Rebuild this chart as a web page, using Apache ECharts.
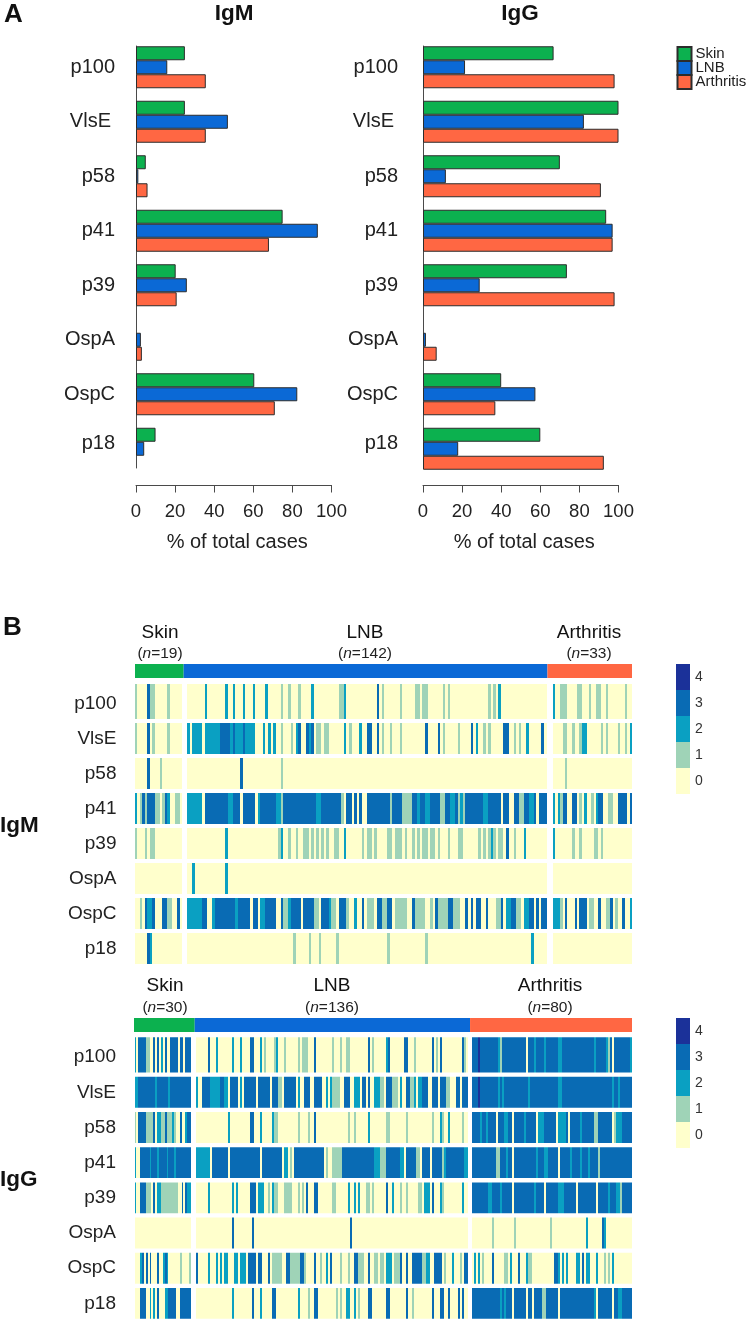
<!DOCTYPE html>
<html><head><meta charset="utf-8">
<style>html,body{margin:0;padding:0;background:#fff}#c{width:748px;height:1321px}</style>
<script src="https://cdn.jsdelivr.net/npm/echarts@6/dist/echarts.min.js"></script>
</head><body><div id="c"></div>
<script>
const antigens = ['p100','VlsE','p58','p41','p39','OspA','OspC','p18'];
const groups = ['Skin','LNB','Arthritis'];
const percentTicks = [0,20,40,60,80,100];
const igmSkinPct = [25,25,5,75,20.3,0,60.5,10];
const igmLnbPct = [16,47,1.2,93,26,2.5,82.5,4.2];
const igmArthPct = [35.7,35.7,5.9,68,20.8,3,71,0];
const iggSkinPct = [66.8,100,70,93.7,73.6,0,40,60];
const iggLnbPct = [21.5,82.3,11.7,97,29,1.5,57.5,18];
const iggArthPct = [98,100,91,97,98,7,37,92.5];
const igmN = [19,142,33];
const iggN = [30,136,80];
const levels = [4,3,2,1,0];
// Each row: runs of [first patient column, run length, score]; every other cell scores 0.
const igmSkin = [
 [[0,1,1],[5,1,3],[6,2,1],[13,1,1]],
 [[0,1,1],[5,1,3],[7,1,1],[13,1,1]],
 [[5,1,3],[10,1,1]],
 [[0,1,2],[2,1,1],[3,1,3],[4,1,1],[5,3,3],[8,2,1],[11,1,1],[12,1,3],[13,1,2],[16,2,1]],
 [[0,1,1],[4,1,1],[6,2,1]],
 [],
 [[2,1,1],[4,1,3],[5,2,2],[7,1,3],[11,2,3],[13,2,1],[17,1,3]],
 [[5,1,3],[6,1,2]]
];
const igmLnb = [
 [[7,1,2],[15,1,2],[18,1,2],[22,1,2],[26,1,2],[31,1,2],[37,1,1],[40,1,1],[44,1,1],[49,1,2],[60,1,1],[61,1,1],[62,1,2],[75,1,3],[77,1,1],[84,1,1],[90,2,1],[93,2,1],[101,1,1],[103,1,1],[119,1,1],[121,1,1],[123,1,2]],
 [[0,1,2],[2,4,2],[7,6,2],[13,4,3],[17,1,2],[18,1,3],[19,3,2],[22,1,3],[23,4,2],[30,1,2],[32,1,2],[34,1,2],[37,1,1],[41,1,1],[43,1,2],[44,1,3],[47,1,3],[48,1,2],[49,1,3],[51,2,1],[54,2,1],[62,1,2],[64,1,1],[68,1,2],[71,2,3],[75,1,3],[77,1,1],[80,1,1],[84,1,1],[94,1,3],[99,1,3],[101,1,1],[107,1,1],[112,1,3],[114,1,2],[117,1,1],[119,1,1],[125,2,3],[129,1,1],[131,1,1],[134,1,2],[140,1,3]],
 [[21,1,3],[37,1,1]],
 [[0,6,2],[7,9,3],[16,2,2],[18,3,3],[22,5,3],[28,1,2],[29,6,3],[35,2,2],[37,1,1],[38,13,3],[51,2,2],[53,8,3],[61,1,1],[63,2,3],[66,1,3],[68,1,3],[71,9,3],[80,1,1],[81,4,3],[85,4,1],[89,2,3],[91,1,2],[92,2,3],[94,2,2],[96,4,3],[100,2,1],[102,2,3],[104,2,2],[106,1,3],[107,1,1],[108,1,2],[109,1,1],[110,7,3],[117,2,2],[119,5,3],[125,2,3],[129,2,3],[131,2,1],[133,2,3],[135,2,2],[137,1,3],[139,3,3]],
 [[15,1,2],[36,1,1],[37,1,2],[40,1,1],[43,1,1],[46,2,1],[49,1,1],[51,1,1],[53,1,1],[55,1,1],[58,2,1],[62,1,2],[69,1,1],[71,2,1],[74,1,1],[79,2,1],[82,3,1],[86,1,1],[89,1,1],[91,1,1],[93,2,1],[96,2,1],[99,1,1],[103,1,1],[107,2,1],[115,1,1],[117,1,1],[119,1,1],[120,1,2],[121,1,1],[123,2,1],[126,1,3],[129,1,1],[133,1,2]],
 [[2,1,2],[15,1,2]],
 [[0,6,2],[6,2,3],[10,1,2],[11,8,3],[19,1,2],[20,5,3],[26,2,3],[29,2,2],[31,4,3],[37,1,3],[38,2,1],[40,1,2],[41,4,3],[46,4,3],[50,2,1],[53,2,3],[55,1,3],[56,1,2],[57,2,1],[60,3,3],[63,1,1],[66,1,2],[69,1,3],[71,3,1],[75,2,3],[77,2,1],[79,2,3],[82,5,1],[89,1,3],[90,4,1],[96,1,1],[98,1,3],[99,4,1],[103,2,3],[105,3,1],[110,1,3],[112,1,3],[114,2,3],[118,1,3],[122,2,1],[124,1,3],[126,2,2],[128,2,3],[130,2,1],[133,2,2],[135,2,3],[138,1,3],[140,2,3]],
 [[42,1,1],[48,1,1],[52,1,1],[59,1,1],[79,1,1],[94,1,1],[136,1,2]]
];
const igmArth = [
 [[0,1,2],[3,3,1],[10,2,1],[15,1,1],[18,2,1],[22,1,1],[30,1,1]],
 [[4,2,1],[8,1,1],[11,1,1],[12,2,2],[20,1,1],[22,1,1],[27,1,1],[30,1,1],[32,1,2]],
 [[5,1,1]],
 [[0,1,2],[2,1,2],[3,1,1],[4,2,3],[8,2,3],[11,1,1],[13,1,2],[16,1,1],[18,1,2],[19,2,3],[23,2,1],[27,4,3],[32,1,3]],
 [[0,1,2],[8,1,1],[11,1,1],[17,2,1],[20,1,1]],
 [],
 [[0,3,2],[3,1,1],[5,1,3],[9,1,3],[11,3,3],[15,2,1],[19,1,3],[22,2,1],[24,1,3],[26,1,1],[29,1,3],[32,1,2]],
 []
];
const iggSkin = [
 [[0,1,2],[2,4,3],[6,2,1],[10,1,3],[12,1,3],[14,1,2],[16,1,3],[19,4,3],[24,2,3],[27,3,3]],
 [[0,2,2],[2,9,3],[11,1,2],[12,6,3],[18,1,2],[19,11,3]],
 [[0,1,1],[2,4,3],[6,4,1],[10,1,3],[12,2,2],[14,2,1],[16,1,3],[17,3,1],[20,1,2],[21,1,1],[24,1,3],[27,1,2],[28,2,3]],
 [[0,1,2],[3,5,3],[8,1,2],[9,3,3],[12,1,2],[13,4,3],[17,1,2],[18,3,3],[21,1,2],[22,8,3]],
 [[0,1,2],[3,3,3],[6,3,1],[10,1,3],[12,2,2],[14,9,1],[25,1,3],[27,1,3],[28,2,2]],
 [],
 [[3,1,2],[4,1,3],[6,1,3],[8,1,3],[12,1,3],[15,1,2],[16,1,3],[17,1,2],[24,1,1],[29,1,1]],
 [[3,3,3],[8,1,2],[10,1,2],[12,1,3],[16,2,2],[18,4,3],[24,6,3]]
];
const iggLnb = [
 [[6,1,3],[10,1,2],[18,1,2],[22,1,2],[27,2,3],[32,1,2],[34,1,1],[39,1,1],[40,1,2],[44,1,1],[51,1,1],[53,3,1],[59,1,3],[68,1,1],[72,1,1],[75,2,1],[86,1,3],[88,1,1],[95,1,2],[96,1,3],[104,2,3],[109,1,1],[118,1,3],[120,1,1],[122,1,3],[133,1,3],[134,1,1]],
 [[0,1,2],[3,4,3],[7,5,2],[12,2,3],[14,2,2],[17,4,3],[22,1,2],[24,6,3],[31,3,3],[34,3,3],[38,3,3],[41,2,1],[44,5,3],[49,1,3],[51,1,2],[54,3,3],[59,4,3],[65,1,2],[67,1,2],[68,4,1],[74,3,3],[79,3,2],[83,2,3],[86,1,3],[89,3,2],[92,2,1],[95,3,3],[98,3,1],[102,1,2],[105,2,3],[107,2,1],[109,1,2],[111,2,2],[113,3,3],[118,3,3],[122,3,3],[125,2,1],[130,2,3],[133,3,3]],
 [[16,1,2],[27,2,3],[32,1,2],[38,1,2],[39,2,1],[51,1,1],[56,1,1],[59,1,3],[76,1,1],[79,1,1],[86,1,2],[95,2,1],[105,1,1],[118,1,1],[122,1,2],[123,1,1],[126,1,2],[133,1,1]],
 [[0,7,2],[8,8,3],[17,5,3],[22,10,3],[33,10,3],[44,2,2],[47,1,1],[49,15,3],[65,1,1],[68,5,1],[73,16,3],[89,3,2],[92,3,1],[95,3,3],[98,4,3],[102,2,2],[105,2,3],[107,3,3],[110,2,1],[113,4,3],[118,5,3],[123,1,1],[124,1,2],[125,9,3],[134,2,2]],
 [[6,1,2],[18,1,2],[20,1,2],[27,3,3],[31,3,2],[36,1,1],[38,1,2],[39,2,1],[44,4,1],[51,1,1],[53,1,1],[55,1,3],[59,2,3],[68,2,1],[76,1,2],[79,1,2],[81,1,2],[85,2,1],[88,1,1],[95,1,3],[98,1,2],[102,1,1],[105,1,1],[111,2,1],[114,3,2],[118,1,3],[122,1,2],[123,1,1],[133,1,2]],
 [[18,1,3],[28,1,3],[77,1,3]],
 [[0,1,3],[6,1,2],[10,1,2],[12,1,2],[14,2,2],[19,2,2],[22,3,2],[26,4,3],[31,2,3],[36,1,3],[38,5,1],[45,2,3],[47,5,1],[52,2,3],[54,1,1],[59,1,3],[62,1,1],[65,1,2],[67,1,3],[72,1,1],[76,1,1],[79,2,3],[81,3,1],[86,1,3],[89,2,1],[92,2,1],[95,3,2],[99,3,1],[102,1,3],[105,1,3],[108,2,3],[110,3,3],[113,2,1],[115,2,2],[119,4,3],[124,1,1],[128,1,2],[132,1,1],[134,2,3]],
 [[18,1,2],[28,1,3],[32,1,2],[38,2,3],[51,1,2],[56,1,1],[59,2,3],[70,1,1],[72,1,1],[75,2,2],[79,1,2],[81,1,1],[86,2,3],[95,2,3],[105,1,3],[108,1,1],[118,1,3],[122,2,3],[126,1,3],[131,1,3],[133,1,3]]
];
const iggArth = [
 [[0,3,3],[3,1,4],[4,9,3],[13,1,2],[14,1,1],[15,12,3],[28,3,3],[31,1,2],[32,4,3],[36,1,2],[37,6,3],[43,2,2],[45,16,3],[61,1,2],[62,5,3],[67,1,2],[68,1,1],[69,1,3],[71,8,3],[79,1,2]],
 [[0,3,3],[3,1,4],[4,9,3],[13,1,2],[14,1,3],[15,1,2],[16,12,3],[28,1,2],[29,14,3],[43,2,2],[45,25,3],[70,1,2],[71,2,3],[73,1,2],[74,6,3]],
 [[0,4,3],[4,1,2],[5,2,3],[7,1,2],[8,4,3],[13,3,3],[16,2,2],[18,2,3],[21,5,3],[26,1,2],[27,5,3],[33,3,2],[36,6,3],[43,4,2],[47,1,3],[49,5,3],[54,1,2],[55,6,3],[61,2,1],[63,7,3],[71,1,1],[72,3,2],[75,5,3]],
 [[0,12,3],[12,2,1],[14,3,3],[17,1,2],[18,2,3],[21,11,3],[32,1,2],[33,3,3],[36,2,2],[38,5,3],[44,5,3],[49,1,2],[50,4,3],[54,1,2],[55,3,3],[58,1,2],[59,4,3],[63,1,1],[64,16,3]],
 [[0,8,3],[8,2,2],[10,4,3],[14,1,2],[15,5,3],[21,10,3],[31,1,2],[32,4,3],[37,6,3],[43,3,2],[46,6,3],[53,9,3],[63,5,3],[68,1,2],[69,3,3],[72,2,2],[74,1,1],[75,5,3]],
 [[10,1,1],[21,1,1],[39,1,1],[57,1,2],[65,1,3],[66,1,2]],
 [[1,1,2],[3,1,2],[5,1,1],[10,1,3],[16,2,1],[19,1,2],[23,1,3],[27,1,2],[28,2,1],[41,2,3],[43,1,2],[45,1,2],[47,1,2],[52,2,2],[55,1,3],[57,2,2],[62,1,2],[66,1,1],[68,1,1],[70,1,2]],
 [[0,14,3],[14,1,2],[15,1,3],[16,1,2],[17,3,3],[21,6,3],[28,2,3],[31,4,3],[35,2,1],[37,6,3],[44,17,3],[61,1,2],[63,7,3],[71,2,3],[73,2,2],[75,5,3]]
];

const FONT = '"Liberation Sans", Arial, sans-serif';
const TXT = '#222';
const AXIS = '#4a4a4a';
const groupColors = {Skin:'#0cb14f', LNB:'#0b69d6', Arthritis:'#ff6743'};
const levelColors = {4:'#1b3199',3:'#096bb4',2:'#0aa0c2',1:'#9fd3b7',0:'#ffffcc'};

const grids=[], xAxes=[], yAxes=[], series=[];
function addGrid(g,x,y){const i=grids.length;grids.push(g);x.gridIndex=i;y.gridIndex=i;xAxes.push(x);yAxes.push(y);return i;}

// ---- Panel A
function barPanel(left, pcts, labelMargin){
  const i=addGrid({left,width:195.5,top:40,height:436},
   {type:'value',min:0,max:100,interval:20,offset:9,position:'bottom',
    name:'% of total cases',nameLocation:'middle',nameGap:47.5,
    nameTextStyle:{fontSize:20,color:TXT,fontFamily:FONT,padding:[0,0,0,7]},
    axisLine:{show:true,lineStyle:{color:AXIS,width:1}},
    axisTick:{show:true,length:7.5,lineStyle:{color:AXIS}},
    splitLine:{show:false},
    axisLabel:{fontSize:18.5,color:TXT,fontFamily:FONT,margin:17,hideOverlap:false,
      formatter:v=>percentTicks.includes(v)?String(v):''}},
   {type:'category',data:antigens,inverse:true,
    axisLine:{show:false},axisTick:{show:false},
    axisLabel:{fontSize:20,color:TXT,fontFamily:FONT,margin:labelMargin,
      formatter:v=>v==='VlsE'?v+'\u2009':(v==='p18'?'{up|'+v+'}':v),
      rich:{up:{fontSize:20,color:TXT,fontFamily:FONT,padding:[0,0,10,0]}}}});
  groups.forEach((g,k)=>series.push({type:'bar',name:g,xAxisIndex:i,yAxisIndex:i,
    data:pcts[k].map(v=>v===0?null:v),
    barWidth:14,barGap:'0%',animation:false,silent:true,
    itemStyle:{color:groupColors[g],borderColor:'#2c2c2c',borderWidth:1}}));
  // the plain vertical baseline, shorter than the category band
  addGrid({left,width:195.5,top:46,height:422},
    {type:'value',min:0,max:100,show:false},
    {type:'value',min:0,max:1,axisLabel:{show:false},axisTick:{show:false},splitLine:{show:false},
     axisLine:{show:true,onZero:false,lineStyle:{color:AXIS,width:1}}});
}
barPanel(136,[igmSkinPct,igmLnbPct,igmArthPct],21);
barPanel(423,[iggSkinPct,iggLnbPct,iggArthPct],25);

// ---- Panel B
const heatIdx=[[],[]];
function heatRender(bandGap,extra){
  return function(params,api){
    const c=api.coord([api.value(0),api.value(1)]);
    const s=api.size([1,1]);
    const x0=Math.round(c[0]-s[0]/2), x1=Math.round(c[0]+s[0]/2);
    const row=api.value(1);
    let top=c[1]-s[1]/2+bandGap/2, h=s[1]-bandGap;
    if(row===0){top-=extra;h+=extra;}
    return {type:'rect',shape:{x:x0,y:top,width:x1-x0,height:h},style:{fill:api.visual('color')},silent:true};
  };
}
function heatPanel(idx,left,width,top,height,n,rows,labels,bandGap,extra){
  const cols=Array.from({length:n},(_,k)=>String(k));
  const i=addGrid({left,width,top,height},
    {type:'category',data:cols,show:false},
    {type:'category',data:antigens,inverse:true,
     axisLine:{show:false},axisTick:{show:false},
     axisLabel:{show:labels,fontSize:19,color:TXT,fontFamily:FONT,margin:18.5,padding:[3,0,0,0]}});
  const data=[];
  rows.forEach((runs,r)=>{
    const cells=new Array(n).fill(0);
    runs.forEach(([s,l,v])=>{for(let k=s;k<s+l&&k<n;k++)cells[k]=v;});
    cells.forEach((v,c)=>data.push([c,r,v]));
  });
  heatIdx[idx].push(series.length);
  series.push({type:'custom',name:'heat'+series.length,xAxisIndex:i,yAxisIndex:i,data,
    renderItem:heatRender(bandGap,extra),encode:{x:0,y:1},animation:false,silent:true,progressive:0,clip:false});
}
function groupBar(left,width,top,ns){
  const i=addGrid({left,width,top,height:14},
    {type:'value',min:0,max:ns.reduce((a,b)=>a+b,0),show:false},
    {type:'category',data:['n'],show:false});
  groups.forEach((g,k)=>series.push({type:'bar',name:g+' n',stack:'n'+i,xAxisIndex:i,yAxisIndex:i,
    data:[ns[k]],barWidth:14,animation:false,silent:true,itemStyle:{color:groupColors[g]}}));
}
groupBar(135,497,664,igmN);
heatPanel(0,135,47,686,280,igmN[0],igmSkin,true,4,4);
heatPanel(0,187,359.5,686,280,igmN[1],igmLnb,false,4,4);
heatPanel(0,553,79,686,280,igmN[2],igmArth,false,4,4);
groupBar(134,498,1018,iggN);
heatPanel(1,134.5,56.5,1039.5,282.7,iggN[0],iggSkin,true,4.3,4.5);
heatPanel(1,195.7,272,1039.5,282.7,iggN[1],iggLnb,false,4.3,4.5);
heatPanel(1,472.3,159.4,1039.5,282.7,iggN[2],iggArth,false,4.3,4.5);

function vm(top,idx){
  return {type:'piecewise',dimension:2,seriesIndex:idx,left:676,top,orient:'vertical',
    itemWidth:14,itemHeight:26,itemGap:0,itemSymbol:'rect',textGap:5,hoverLink:false,selectedMode:false,
    textStyle:{fontSize:14,color:'#333',fontFamily:FONT},padding:0,align:'left',
    pieces:levels.map(v=>({value:v,label:String(v),color:levelColors[v]}))};
}
function txt(x,y,text,size,opts){
  return {type:'text',x,y,silent:true,style:{text,fill:'#111',
    font:(opts&&opts.bold?'bold ':'')+size+'px '+FONT,align:(opts&&opts.align)||'center',verticalAlign:'middle'}};
}
function nLabel(cx,y,n){
  return {type:'text',x:cx,y,silent:true,style:{text:'({i|n}='+n+')',fill:TXT,font:'15.5px '+FONT,align:'center',verticalAlign:'middle',
    rich:{i:{fontStyle:'italic',fontSize:15.5,fontFamily:FONT,fill:TXT}}}};
}
const graphics=[
  txt(4,15,'A',26,{bold:true,align:'left'}),
  txt(234,14,'IgM',22.5,{bold:true}),
  txt(520,14,'IgG',22.5,{bold:true}),
  txt(3,628,'B',26,{bold:true,align:'left'}),
  txt(0,826,'IgM',22.5,{bold:true,align:'left'}),
  txt(0,1180,'IgG',22.5,{bold:true,align:'left'}),
  txt(160,633,groups[0],19),nLabel(160,654,igmN[0]),
  txt(365,633,groups[1],19),nLabel(365,654,igmN[1]),
  txt(589,633,groups[2],19),nLabel(589,654,igmN[2]),
  txt(165,986,groups[0],19),nLabel(165,1008,iggN[0]),
  txt(332,986,groups[1],19),nLabel(332,1008,iggN[1]),
  txt(550,986,groups[2],19),nLabel(550,1008,iggN[2])
];
const chart=echarts.init(document.getElementById('c'),null,{renderer:'canvas'});
chart.setOption({
  backgroundColor:'#fff',animation:false,textStyle:{fontFamily:FONT},
  tooltip:{show:false},
  legend:{data:groups,orient:'vertical',left:676.5,top:46,itemWidth:14,itemHeight:14,itemGap:-2,padding:0,
    selectedMode:false,icon:'rect',textStyle:{fontSize:15,color:TXT,fontFamily:FONT,padding:[0,0,0,-1]}},
  visualMap:[vm(664,heatIdx[0]),vm(1018,heatIdx[1])],
  grid:grids,xAxis:xAxes,yAxis:yAxes,series,
  graphic:{elements:graphics}
});
</script></body></html>
